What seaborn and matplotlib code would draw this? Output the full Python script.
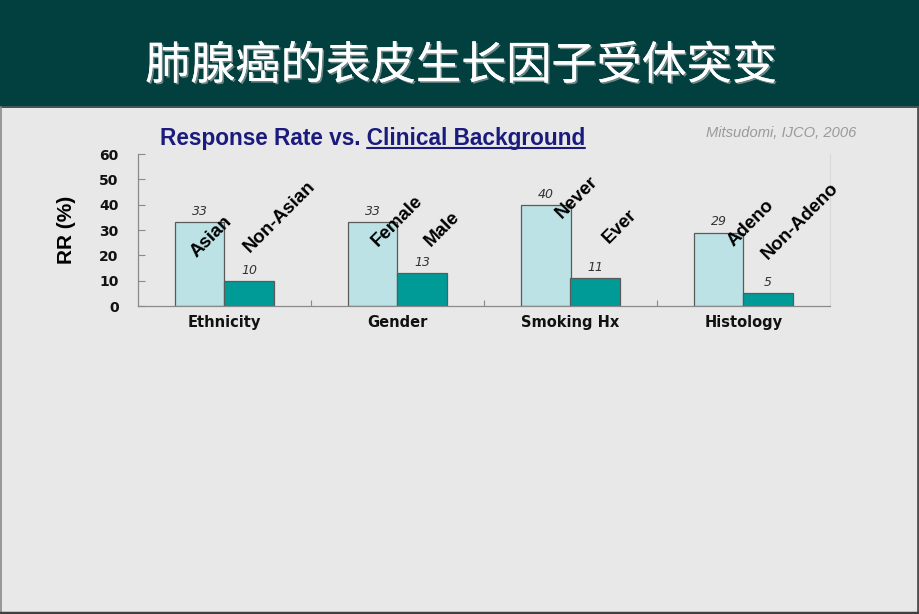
import matplotlib
matplotlib.use("Agg")
import matplotlib.pyplot as plt
import matplotlib.patheffects as pe
from matplotlib.patches import Rectangle
from matplotlib.lines import Line2D
import seaborn as sns
import pandas as pd

# ---------------- data ----------------
groups = ["Ethnicity", "Gender", "Smoking Hx", "Histology"]
first_labels = ["Asian", "Female", "Never", "Adeno"]
second_labels = ["Non-Asian", "Male", "Ever", "Non-Adeno"]
first_values = [33, 33, 40, 29]
second_values = [10, 13, 11, 5]
y_ticks = [0, 10, 20, 30, 40, 50, 60]
title_plain = "Response Rate vs. "
title_underlined = "Clinical Background"
citation = "Mitsudomi, IJCO, 2006"
header_title = "肺腺癌的表皮生长因子受体突变"
y_label = "RR (%)"

# layout: anchor (offset from group centre, y) for rotated subgroup labels
first_anchor = [(-0.16, 18.9), (-0.115, 23.4), (-0.05, 34.2), (-0.06, 23.4)]
second_anchor = [(0.145, 20.9), (0.195, 23.4), (0.22, 24.5), (0.138, 18.2)]

df = pd.DataFrame({
    "group": groups * 2,
    "level": ["first"] * len(groups) + ["second"] * len(groups),
    "value": first_values + second_values,
})

W, H = 920, 614
BG = "#E8E8E8"
sns.set_theme(style="white")
plt.rcParams["font.family"] = ["Liberation Sans", "DejaVu Sans"]

fig = plt.figure(figsize=(W / 100, H / 100), dpi=100, facecolor=BG)

# header band and borders
fig.patches.append(Rectangle((0, 1 - 106 / H), 1, 106 / H, transform=fig.transFigure,
                             facecolor="#023F3F", edgecolor="none", zorder=0))
fig.lines.append(Line2D([0, 1], [1 - 106.5 / H] * 2, transform=fig.transFigure,
                        color="#243838", lw=1.2))
fig.lines.append(Line2D([918.5 / W] * 2, [0, 1 - 107 / H], transform=fig.transFigure,
                        color="#505050", lw=2))
fig.lines.append(Line2D([0.5 / W] * 2, [0, 1 - 107 / H], transform=fig.transFigure,
                        color="#8a8a8a", lw=1.2))
fig.lines.append(Line2D([0, 1], [1.5 / H] * 2, transform=fig.transFigure,
                        color="#404040", lw=2.5))

fig.text(461 / W, 1 - 66 / H, header_title, ha="center", va="center", color="white",
         fontsize=32.5, family=["Noto Sans CJK SC", "DejaVu Sans"],
         path_effects=[pe.withSimplePatchShadow(offset=(1.2, -1.2), shadow_rgbFace="#8a9a9a", alpha=0.8),
                       pe.Normal()])

ax = fig.add_axes([138 / W, 1 - 306 / H, (830 - 138) / W, (306 - 154) / H])
ax.set_facecolor(BG)

sns.barplot(data=df, x="group", y="value", hue="level", order=groups,
            hue_order=["first", "second"], palette=["#BCE2E5", "#009A97"],
            width=0.57, edgecolor="#5a5a5a", linewidth=0.9, ax=ax, legend=False,
            saturation=1)

ax.set_xlim(-0.5, len(groups) - 0.5)
ax.set_ylim(0, 60)
ax.set_yticks(y_ticks)
ax.set_yticklabels([str(t) for t in y_ticks], fontsize=10, fontweight="bold",
                   family="DejaVu Sans", color="#111111")
ax.set_xticks(range(len(groups)))
ax.set_xticklabels(groups, fontsize=10.5, fontweight="bold", family="DejaVu Sans",
                   color="#111111")
ax.set_xticks([i + 0.5 for i in range(len(groups) - 1)], minor=True)
ax.tick_params(axis="y", which="major", direction="in", length=5, width=0.8,
               color="#8a8a8a", pad=14, left=True)
ax.tick_params(axis="x", which="major", length=0, pad=6.5)
ax.tick_params(axis="x", which="minor", direction="in", length=4, width=0.8,
               color="#8a8a8a", bottom=True)
ax.set_xlabel("")
ax.set_ylabel(y_label, fontsize=15, fontweight="bold", color="#000000")
ax.yaxis.set_label_coords(-0.09, 0.5)

ax.spines["top"].set_visible(False)
ax.spines["left"].set_color("#8a8a8a")
ax.spines["bottom"].set_color("#8a8a8a")
ax.spines["right"].set_color("#d8d8d8")
ax.spines["left"].set_linewidth(0.9)
ax.spines["bottom"].set_linewidth(0.9)
ax.spines["right"].set_linewidth(0.8)

for cont in ax.containers:
    ax.bar_label(cont, padding=3, fontsize=9, fontstyle="italic", family="DejaVu Sans",
                 color="#333333")

for i in range(len(groups)):
    for lab, (dx, yy) in ((first_labels[i], first_anchor[i]), (second_labels[i], second_anchor[i])):
        ax.text(i + dx, yy, lab, rotation=45, rotation_mode="anchor", ha="left",
                va="baseline", fontsize=13.5, fontweight="bold", color="#000000")

# title with underline on second part
TFS = 16.3
t = fig.text(160 / W, 1 - 138 / H, title_plain + title_underlined, ha="left", va="center",
             fontsize=TFS, fontweight="bold", color="#1B1B7E")
fig.canvas.draw()
r = fig.canvas.get_renderer()
bb = t.get_window_extent(r)
tmp = fig.text(0, 0, title_underlined, fontsize=TFS, fontweight="bold")
wb = tmp.get_window_extent(r)
tmp.remove()
x1 = bb.x1 / W
x0 = (bb.x1 - wb.width) / W
yu = (bb.y0 + 2) / H
fig.lines.append(Line2D([x0, x1], [yu, yu], transform=fig.transFigure, color="#1B1B7E", lw=1.5))

fig.text(856 / W, 1 - 133 / H, citation, ha="right", va="center", fontsize=10.6,
         fontstyle="italic", color="#9a9a9a",
         family=["Liberation Sans Narrow", "Liberation Sans"])

fig.savefig("out.png", dpi=100, facecolor=BG)
